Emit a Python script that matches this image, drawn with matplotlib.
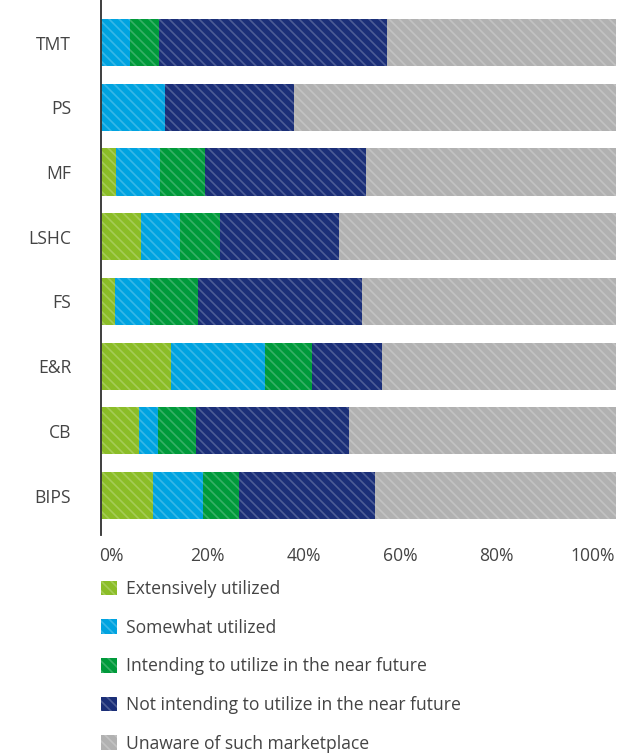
import numpy as np
import matplotlib
matplotlib.use("Agg")
import matplotlib.pyplot as plt
from matplotlib.patches import Patch
from matplotlib.colors import to_rgb

plt.rcParams['font.family'] = ['Open Sans', 'DejaVu Sans']
plt.rcParams['hatch.linewidth'] = 1.0

# data (share of respondents, %), top to bottom
categories = ["TMT", "PS", "MF", "LSHC", "FS", "E&R", "CB", "BIPS"]
extensively = [0.0, 0.0, 2.9, 7.7, 2.7, 13.6, 7.4, 10.0]
somewhat = [5.6, 12.5, 8.6, 7.7, 6.8, 18.2, 3.7, 9.9]
intending = [5.6, 0.0, 8.6, 7.7, 9.3, 9.1, 7.4, 6.8]
not_intending = [44.4, 25.0, 31.4, 23.1, 31.9, 13.6, 29.6, 26.6]
unaware = [44.4, 62.5, 48.5, 53.8, 49.3, 45.5, 51.9, 46.7]

series = [extensively, somewhat, intending, not_intending, unaware]
labels = ["Extensively utilized", "Somewhat utilized",
          "Intending to utilize in the near future",
          "Not intending to utilize in the near future",
          "Unaware of such marketplace"]
colors = ["#8BBD27", "#00A3E0", "#009A3B", "#1B2F78", "#B1B1B1"]
tick_labels = ["0%", "20%", "40%", "60%", "80%", "100%"]

HATCH = '\\' * 4


def lighter(c, f=0.22):
    r, g, b = to_rgb(c)
    return (r + (1 - r) * f, g + (1 - g) * f, b + (1 - b) * f)


fig = plt.figure(figsize=(641 / 120, 754 / 120), dpi=120)
ax = fig.add_axes([101 / 641, 1 - 535 / 754, 515 / 641, 535 / 754])

y = np.arange(len(categories))[::-1]
left = np.zeros(len(categories))
for vals, lab, col in zip(series, labels, colors):
    ax.barh(y, vals, left=left, height=0.73, color=col,
            edgecolor=lighter(col), linewidth=0, hatch=HATCH, label=lab)
    left += np.array(vals)

ax.set_xlim(0, 100)
ax.set_ylim(-0.61, 7.66)
ax.set_yticks(y)
ax.set_yticklabels(categories)

# tick labels are spread evenly across the bar width in the original
tick_pos = np.linspace(0, 100, 6) * 0.935 + 2
ax.set_xticks(tick_pos)
ax.set_xticklabels(tick_labels)
ax.tick_params(axis='both', length=0, labelsize=10.5, colors='#444444')
ax.tick_params(axis='y', pad=18)
ax.tick_params(axis='x', pad=7)

for s in ['top', 'right', 'bottom']:
    ax.spines[s].set_visible(False)
ax.spines['left'].set_color('#333333')
ax.spines['left'].set_linewidth(1.1)

handles = [Patch(facecolor=c, edgecolor=lighter(c), linewidth=0, hatch=HATCH)
           for c in colors]
fig.legend(handles, labels, loc='upper left',
           bbox_to_anchor=(101 / 641, 1 - 580 / 754),
           frameon=False, fontsize=10.5, labelcolor='#444444',
           handlelength=0.9, handleheight=0.9, handletextpad=0.55,
           labelspacing=1.18, borderpad=0, borderaxespad=0)

fig.savefig("out.png", dpi=120)
